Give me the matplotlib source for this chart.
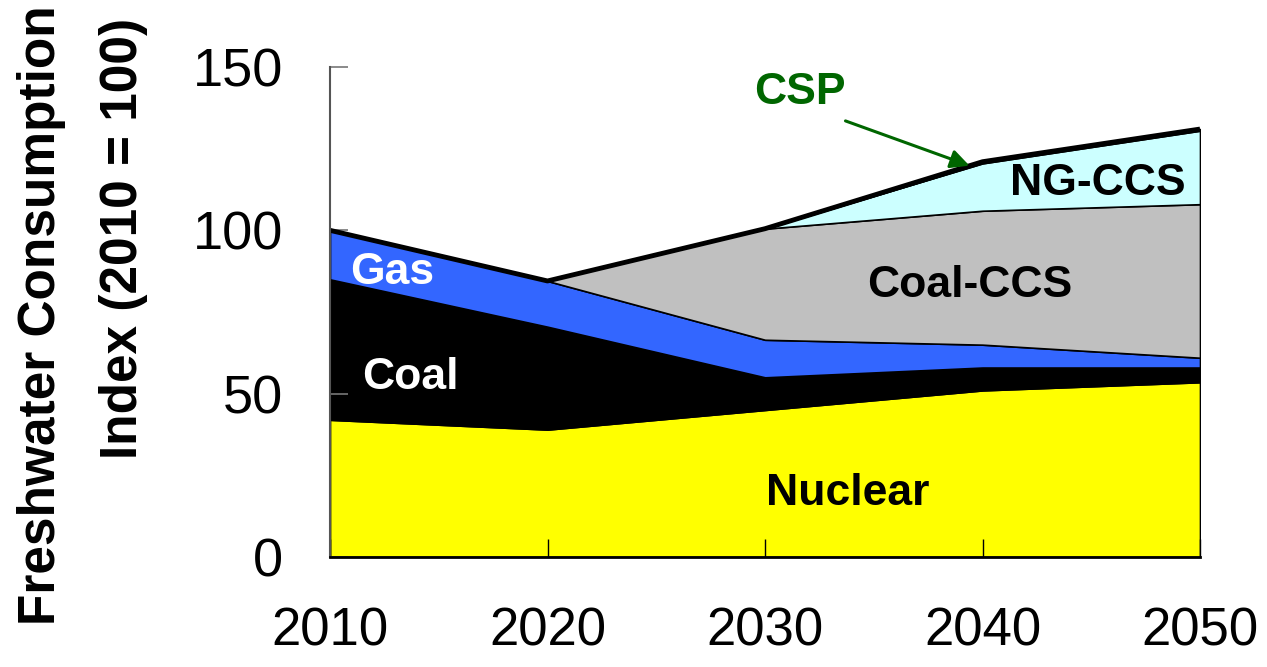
import matplotlib
matplotlib.use("Agg")
import matplotlib.pyplot as plt

years = [2010, 2020, 2030, 2040, 2050]
nuclear = [42, 39, 45, 51, 53.5]
coal = [43, 31.5, 10, 7, 4.5]
gas = [15, 14, 11.5, 7, 3]
coal_ccs = [0, 0, 34, 41, 47]
ng_ccs = [0, 0, 0, 14.5, 22.5]
csp = [0, 0, 0, 0.5, 0.5]

layer_names = ["Nuclear", "Coal", "Gas", "Coal-CCS", "NG-CCS", "CSP"]
layer_colors = ["#FFFF00", "#000000", "#3366FF", "#C0C0C0", "#CCFFFF", "#006600"]
y_ticks = [0, 50, 100, 150]

font = "Liberation Sans"

fig = plt.figure(figsize=(12.67, 6.67), dpi=100)
ax = fig.add_axes([330 / 1267, 110 / 667, 870 / 1267, 490 / 667])

layers = [nuclear, coal, gas, coal_ccs, ng_ccs, csp]
ax.stackplot(years, *layers, colors=layer_colors, labels=layer_names,
             edgecolor="black", linewidth=1.2)

totals = [sum(v) for v in zip(*layers)]
ax.plot(years, totals, color="black", linewidth=3.5, solid_capstyle="butt")

ax.set_xlim(2010, 2050)
ax.set_ylim(0, 150)
ax.set_xticks(years)
ax.set_xticklabels([str(y) for y in years], fontfamily=font, fontsize=38)
ax.set_yticks(y_ticks)
ax.set_yticklabels([str(t) for t in y_ticks], fontfamily=font, fontsize=39)

ax.tick_params(axis="x", direction="in", length=13, width=1, color="black", pad=36)
ax.tick_params(axis="y", direction="in", length=13, width=1.2, color="#777777", pad=34)

for side in ("top", "right"):
    ax.spines[side].set_visible(False)
ax.spines["left"].set_color("#555555")
ax.spines["left"].set_linewidth(1.5)
ax.spines["bottom"].set_color("black")
ax.spines["bottom"].set_linewidth(2)
for sp in ax.spines.values():
    sp.set_zorder(5)

fig.text(42 / 1267, 1 - 315 / 667, "Freshwater Consumption", rotation=90,
         ha="center", va="center", fontfamily=font, fontweight="bold", fontsize=37)
fig.text(123 / 1267, 1 - 238 / 667, "Index (2010 = 100)", rotation=90,
         ha="center", va="center", fontfamily=font, fontweight="bold", fontsize=37)

label_kw = dict(fontfamily=font, fontweight="bold", fontsize=32, ha="center", va="center")
ax.text(2012.85, 87.2, "Gas", color="white", **label_kw)
ax.text(2013.7, 54.8, "Coal", color="white", **label_kw)
ax.text(2033.8, 19.3, "Nuclear", color="black", **label_kw)
ax.text(2039.4, 83.0, "Coal-CCS", color="black", **label_kw)
ax.text(2045.3, 114.3, "NG-CCS", color="black", **label_kw)
ax.text(2031.6, 142.3, "CSP", color="#006600", **label_kw)

ax.annotate("", xy=(2039.4, 119.8), xytext=(2033.7, 133.5), annotation_clip=False,
            arrowprops=dict(arrowstyle="-|>", color="#006600", lw=2.2,
                            mutation_scale=28, shrinkA=0, shrinkB=0))

fig.savefig("out.png", dpi=100)
